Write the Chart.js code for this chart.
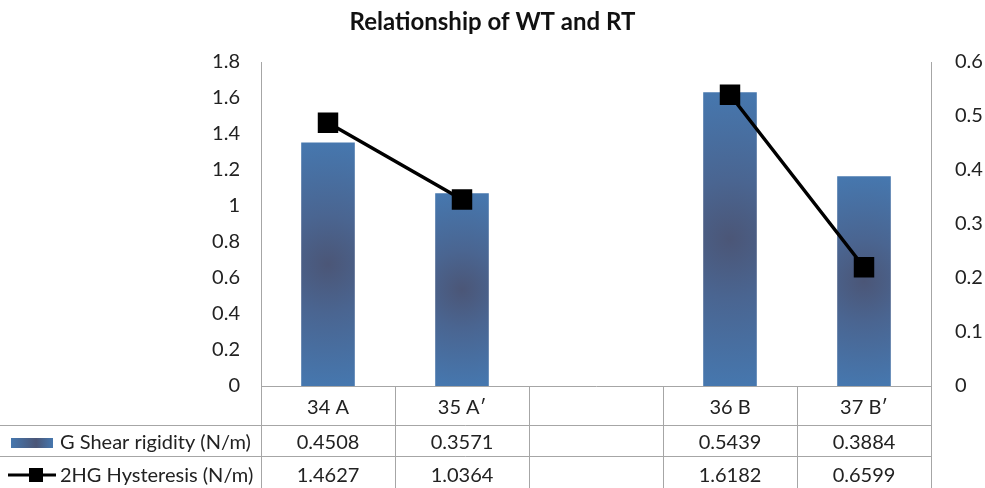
<!DOCTYPE html>
<html>
<head>
<meta charset="utf-8">
<script src="https://cdn.jsdelivr.net/npm/chart.js@4"></script>
<style>
  html, body { margin: 0; padding: 0; background: #fff; }
  #wrap { width: 985px; height: 488px; }
</style>
</head>
<body>
<div id="wrap"><canvas id="chart" width="985" height="488"></canvas></div>
<script>
const categories = ['34 A', '35 A\u2032', '', '36 B', '37 B\u2032'];
const shearRigidity = [0.4508, 0.3571, null, 0.5439, 0.3884];
const hysteresis = [1.4627, 1.0364, null, 1.6182, 0.6599];
const seriesNames = ['G Shear rigidity (N/m)', '2HG Hysteresis (N/m)'];

const FONT = 'Lato, "Open Sans", sans-serif';

function barGradient(c) {
    const chart = c.chart;
    const x = chart.scales.x, yr = chart.scales.yR;
    if (!x || !yr || c.raw == null) return '#4677ae';
    const cx = x.getPixelForValue(c.dataIndex);
    const top = yr.getPixelForValue(c.raw);
    const base = yr.getPixelForValue(0);
    const cy = (top + base) / 2;
    const r = (base - top) / 2;
    if (![cx, cy, r].every(Number.isFinite) || r <= 0) return '#4677ae';
    const g = chart.ctx.createRadialGradient(cx, cy, 0, cx, cy, r);
    g.addColorStop(0, '#4b5677');
    g.addColorStop(0.4, '#4a6591');
    g.addColorStop(1, '#4677ae');
    return g;
}

// draws the data table under the plot
const tablePlugin = {
    id: 'dataTable',
    afterDraw(chart) {
        const ctx = chart.ctx;
        const x = chart.scales.x;
        const area = chart.chartArea;
        const left = area.left, right = area.right;
        const top = area.bottom;
        const rowY = [top, 425, 456, 488];
        const n = categories.length;
        const step = (right - left) / n;

        ctx.save();
        ctx.strokeStyle = '#a6a6a6';
        ctx.lineWidth = 1;
        ctx.beginPath();
        for (let i = 0; i <= n; i++) {
            const lx = Math.round(left + i * step) + 0.5;
            ctx.moveTo(lx, top);
            ctx.lineTo(lx, 488);
        }
        ctx.moveTo(0, rowY[1] + 0.5); ctx.lineTo(right + 0.5, rowY[1] + 0.5);
        ctx.moveTo(0, rowY[2] + 0.5); ctx.lineTo(right + 0.5, rowY[2] + 0.5);
        ctx.stroke();

        ctx.fillStyle = '#222';
        ctx.font = '20px ' + FONT;
        ctx.textAlign = 'center';
        ctx.textBaseline = 'middle';
        categories.forEach((c, i) => {
            const cx = x.getPixelForValue(i);
            ctx.fillText(c, cx, 408);
            if (shearRigidity[i] != null) ctx.fillText(shearRigidity[i].toFixed(4), cx, 443);
            if (hysteresis[i] != null) ctx.fillText(hysteresis[i].toFixed(4), cx, 476);
        });

        // legend keys
        ctx.textAlign = 'left';
        ctx.fillText(seriesNames[0], 60, 443);
        ctx.fillText(seriesNames[1], 60, 476);
        const lg = ctx.createLinearGradient(11, 0, 53, 0);
        lg.addColorStop(0, '#4677ae');
        lg.addColorStop(0.6, '#4b5677');
        lg.addColorStop(1, '#4677ae');
        ctx.fillStyle = lg;
        ctx.fillRect(11, 438, 42, 10);
        ctx.strokeStyle = '#000';
        ctx.lineWidth = 3;
        ctx.beginPath();
        ctx.moveTo(8, 475); ctx.lineTo(56, 475);
        ctx.stroke();
        ctx.fillStyle = '#000';
        ctx.fillRect(29, 468, 14, 14);
        ctx.restore();
    }
};

new Chart(document.getElementById('chart'), {
    data: {
        labels: categories,
        datasets: [
            {
                type: 'line',
                label: seriesNames[1],
                data: hysteresis,
                yAxisID: 'yL',
                borderColor: '#000',
                borderWidth: 3.5,
                pointStyle: 'rect',
                pointRadius: 12,
                pointBackgroundColor: '#000',
                pointBorderColor: '#000',
                spanGaps: false,
                order: 0
            },
            {
                type: 'bar',
                label: seriesNames[0],
                data: shearRigidity,
                yAxisID: 'yR',
                backgroundColor: barGradient,
                barPercentage: 0.4,
                categoryPercentage: 1,
                order: 1
            }
        ]
    },
    options: {
        responsive: false,
        animation: false,
        layout: { padding: { left: 0, right: 0, top: 0, bottom: 0 } },
        plugins: {
            legend: { display: false },
            tooltip: { enabled: false },
            title: {
                display: true,
                text: 'Relationship of WT and RT',
                color: '#111',
                font: { family: FONT, size: 24, weight: 'bold', lineHeight: 1.2 },
                padding: { top: 8, bottom: 25.2 }
            }
        },
        scales: {
            x: {
                offset: true,
                grid: { display: false, drawTicks: false },
                border: { display: true, color: '#a6a6a6' },
                ticks: { display: false },
                afterFit: s => { s.height = 102; }
            },
            yL: {
                position: 'left',
                min: 0, max: 1.8,
                ticks: {
                    stepSize: 0.2, padding: 21, color: '#222',
                    font: { family: FONT, size: 20 },
                    callback: v => +v.toFixed(1)
                },
                grid: { display: false, drawTicks: false },
                border: { display: true, color: '#a6a6a6' },
                afterFit: s => { s.width = 261; }
            },
            yR: {
                position: 'right',
                min: 0, max: 0.6,
                ticks: {
                    stepSize: 0.1, padding: 18, color: '#222',
                    font: { family: FONT, size: 20 },
                    callback: v => +v.toFixed(1)
                },
                grid: { display: false, drawOnChartArea: false, drawTicks: true, tickLength: 6, color: '#a6a6a6' },
                border: { display: true, color: '#a6a6a6' },
                afterFit: s => { s.width = 54; }
            }
        }
    },
    plugins: [tablePlugin]
});
</script>
</body>
</html>
